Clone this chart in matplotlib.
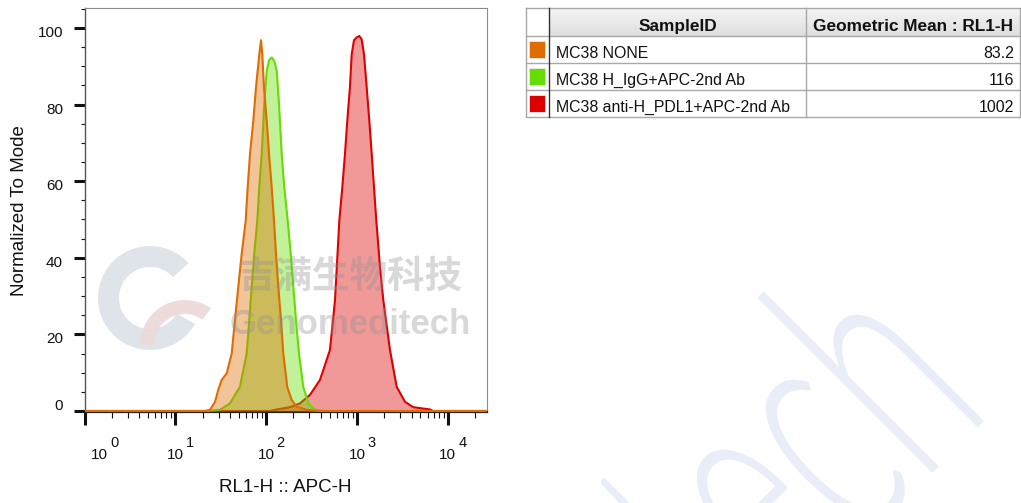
import matplotlib
matplotlib.use("Agg")
from matplotlib import pyplot as plt
from matplotlib import transforms
from matplotlib.patches import Rectangle, Wedge, PathPatch
from matplotlib.lines import Line2D
from matplotlib.textpath import TextPath
from matplotlib.font_manager import FontProperties
from matplotlib.ticker import FixedLocator, LogLocator, MultipleLocator, NullFormatter

W, H = 1021, 503

plt.rcParams["font.family"] = ["Liberation Sans", "DejaVu Sans"]

# histogram traces: RL1-H channel value, % of mode
none_x = [1, 21.2, 24.1, 27.4, 29.7, 32.4, 36.8, 41.8, 45.4, 49.4, 53.9, 59.6, 62.7,
          66.5, 72.3, 77.4, 84.2, 87.9, 90.8, 94.8, 101.6, 107.7, 115.3, 122.2, 128.5,
          136.3, 145.9, 154.6, 171.0, 191.3, 217.2, 279.8, 392.4, 27100]
none_y = [0, 0, 0.3, 2.4, 5.5, 8.1, 9.8, 15.0, 23.7, 32.4, 41.1, 49.7, 58.4,
          67.1, 75.8, 84.5, 93.1, 96.8, 93.1, 84.5, 75.8, 67.1, 58.4, 49.7, 41.1,
          32.4, 23.7, 15.0, 6.3, 2.9, 1.1, 0.3, 0, 0]

igg_x = [1, 22.3, 31.1, 40.0, 51.5, 61.1, 65.3, 69.4, 74.1, 80.0, 84.2, 89.5, 95.5,
         101.6, 108.0, 115.3, 123.0, 130.9, 138.7, 148.6, 158.5, 173.0, 186.6, 199.5,
         213.5, 230.2, 256.8, 291.7, 345.8, 445.5, 27100]
igg_y = [0, 0, 0.3, 2.0, 6.3, 15.0, 23.7, 32.4, 41.1, 49.7, 58.4, 67.1, 80.2,
         88.8, 91.6, 92.3, 91.4, 88.8, 80.2, 67.1, 58.4, 49.7, 41.1, 32.4,
         23.7, 15.0, 6.3, 2.0, 0.3, 0, 0]

pdl1_x = [1, 110.4, 130.9, 183.4, 236.2, 304.2, 391.8, 504.7, 574.1, 640.3, 690.9,
          739.4, 783.8, 838.6, 876.3, 929.7, 995.1, 1062, 1129, 1197, 1282, 1370,
          1456, 1543, 1636, 1796, 1954, 2314, 2743, 3388, 4178, 6383, 6887, 27100]
pdl1_y = [0, 0, 0.4, 1.0, 2.0, 4.2, 8.1, 15.9, 28.9, 49.7, 58.4,
          67.1, 75.8, 84.5, 93.1, 96.8, 97.5, 97.9, 97.0, 93.1, 84.5, 75.8,
          67.1, 58.4, 49.7, 37.6, 28.9, 15.9, 6.3, 2.4, 1.0, 0.4, 0, 0]

sample_ids = ["MC38 NONE", "MC38 H_IgG+APC-2nd Ab", "MC38 anti-H_PDL1+APC-2nd Ab"]
geo_means = [83.2, 116, 1002]
colors = ["#DE6C00", "#66DD00", "#DD0000"]

decades = [0, 1, 2, 3, 4]
y_major = [0, 20, 40, 60, 80, 100]

fig = plt.figure(figsize=(W / 100, H / 100), dpi=100)
# pixel coordinates, origin at top left
pxT = transforms.Affine2D().scale(1 / W, -1 / H).translate(0, 1) + fig.transFigure

# faint script watermark on the right, narrowed and turned 45 degrees
wm = TextPath((0, 0), "tech", size=340, prop=FontProperties(family="Lato", weight=300))
ext = wm.get_extents()
wm_t = (transforms.Affine2D().translate(-ext.x1, 0).scale(0.55, 1).rotate_deg(45)
        .translate(984, H - 421) + transforms.Affine2D().scale(1 / W, 1 / H) + fig.transFigure)
fig.add_artist(PathPatch(wm, transform=wm_t, facecolor="#E8EDF7", edgecolor="none", zorder=-1))

ax = fig.add_axes([84.5 / W, 1 - 412 / H, (487 - 84.5) / W, (412 - 8) / H])

series = [(pdl1_x, pdl1_y, colors[2]), (igg_x, igg_y, colors[1]), (none_x, none_y, colors[0])]
for i, (xs, ys, c) in enumerate(series):
    ax.fill_between(xs, ys, 0, color=c, alpha=0.4, lw=0, zorder=2 + i)
    ax.plot(xs, ys, color=c, lw=1.5, zorder=2 + i, solid_joinstyle="round")

ax.set_xscale("log")
ax.set_xlim(1, 27100)
ax.set_ylim(-0.26, 105.2)

ax.xaxis.set_major_locator(FixedLocator([10.0 ** e for e in decades]))
ax.xaxis.set_minor_locator(LogLocator(base=10, subs=range(2, 10), numticks=20))
ax.xaxis.set_major_formatter(NullFormatter())
ax.xaxis.set_minor_formatter(NullFormatter())
ax.yaxis.set_major_locator(FixedLocator(y_major))
ax.yaxis.set_minor_locator(MultipleLocator(5))
ax.yaxis.set_major_formatter(NullFormatter())

ax.tick_params(axis="x", which="major", length=9.4, width=2.2, color="#111")
ax.tick_params(axis="x", which="minor", length=4.3, width=0.8, color="#111")
ax.tick_params(axis="y", which="major", length=8, width=2.2, color="#111")
ax.tick_params(axis="y", which="minor", length=3, width=0.8, color="#111")

for side in ["top", "right"]:
    ax.spines[side].set_color("#8c8c8c")
    ax.spines[side].set_linewidth(0.8)
ax.spines["left"].set_color("#555")
ax.spines["left"].set_linewidth(1.0)
ax.spines["bottom"].set_color("#222")
ax.spines["bottom"].set_linewidth(1.6)

# x tick labels as 10 with raised exponent
lab_t = transforms.blended_transform_factory(ax.transData, pxT)
for i, e in enumerate(decades):
    shift = 15 if i == 0 else 0
    tb = transforms.offset_copy(lab_t, fig=fig, x=shift * 0.72, units="points")
    ax.text(10.0 ** e, 455, "10", transform=tb, ha="center", va="center",
            fontsize=11, color="#111", clip_on=False)
    te = transforms.offset_copy(lab_t, fig=fig, x=(shift + 10.5) * 0.72, units="points")
    ax.text(10.0 ** e, 443, str(e), transform=te, ha="left", va="center",
            fontsize=10.5, color="#111", clip_on=False)

# y tick labels
ylab_t = transforms.blended_transform_factory(pxT, ax.transData)
for v in y_major:
    dy = 5 if v == 0 else -5
    ty = transforms.offset_copy(ylab_t, fig=fig, y=dy * 0.72, units="points")
    ax.text(63, v, str(v), transform=ty, ha="right", va="center",
            fontsize=11, color="#111", clip_on=False)

fig.text(20, 211, "Normalized To Mode", transform=pxT, rotation=90,
         ha="center", va="center", fontsize=13.5, color="#111")
fig.text(285, 488, "RL1-H :: APC-H", transform=pxT, ha="center", va="center",
         fontsize=13.5, color="#111")

# grey watermark logo and name
fig.add_artist(Wedge((150, 298), 52, 30, 318, width=21, transform=pxT,
                     facecolor="#DCE2E8", edgecolor="none", alpha=0.9))
fig.add_artist(Wedge((185, 345), 45, 180, 305, width=14, transform=pxT,
                     facecolor="#EDD9D9", edgecolor="none", alpha=0.9))
fig.text(350, 276, "吉满生物科技", transform=pxT, ha="center", va="center",
         fontsize=27, weight="bold", color="#909090", alpha=0.35,
         family=["Noto Sans CJK SC", "DejaVu Sans"])
fig.text(350, 325, "Genomeditech", transform=pxT, ha="center", va="center",
         fontsize=25, weight="bold", color="#909090", alpha=0.35)

# statistics table
x_l, x_c1, x_c2, x_r = 526, 549, 806, 1020
row_top = [8, 36, 63, 90]
row_bot = 117
steps = 14
for k in range(steps):
    g = 0.955 - 0.085 * k / (steps - 1)
    y0 = row_top[0] + (row_top[1] - row_top[0]) * k / steps
    fig.add_artist(Rectangle((x_c1, y0), x_r - x_c1, (row_top[1] - row_top[0]) / steps + 0.3,
                             transform=pxT, facecolor=(g, g, g), edgecolor="none"))

grey = "#a8a8a8"
for y in row_top[1:]:
    fig.add_artist(Line2D([x_l, x_r], [y, y], transform=pxT, color=grey, lw=1))
fig.add_artist(Line2D([x_l, x_r, x_r, x_l, x_l], [row_top[0], row_top[0], row_bot, row_bot, row_top[0]],
                      transform=pxT, color=grey, lw=1))
fig.add_artist(Line2D([x_c1, x_c1], [row_top[0], row_bot], transform=pxT, color="#333", lw=1))
fig.add_artist(Line2D([x_c2, x_c2], [row_top[0], row_bot], transform=pxT, color=grey, lw=1))

fig.text((x_c1 + x_c2) / 2, 31, "SampleID", transform=pxT, ha="center", va="baseline",
         fontsize=12.4, weight="bold", color="#111")
fig.text((x_c2 + x_r) / 2, 31, "Geometric Mean : RL1-H", transform=pxT, ha="center",
         va="baseline", fontsize=12.4, weight="bold", color="#111")

for i, (name, val, c) in enumerate(zip(sample_ids, geo_means, colors)):
    top = row_top[i + 1]
    fig.add_artist(Rectangle((529, top + 5), 16, 17, transform=pxT, facecolor=c,
                             edgecolor="#e8e8e8", lw=0.6))
    fig.text(556, top + 22, name, transform=pxT, ha="left", va="baseline",
             fontsize=11.4, color="#111")
    fig.text(1014, top + 22, f"{val:g}", transform=pxT, ha="right", va="baseline",
             fontsize=11.4, color="#111")

fig.savefig("out.png", dpi=100)
